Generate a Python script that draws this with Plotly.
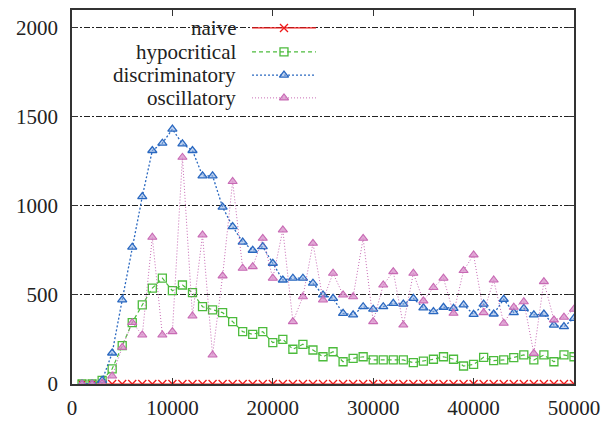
import plotly.graph_objects as go

x_vals = [1000 * i for i in range(1, 51)]

naive = [0] * 50

hypocritical = [0, 0, 20, 85, 215, 345, 444, 538, 594, 524,
                556, 513, 434, 416, 401, 350, 294, 279, 294, 232,
                251, 195, 223, 191, 153, 181, 125, 144, 153, 135,
                135, 135, 135, 120, 128, 139, 153, 139, 101, 110,
                150, 131, 135, 148, 163, 135, 163, 125, 163, 153]

discriminatory = [0, 0, 20, 174, 472, 768, 1052, 1311, 1352, 1431,
                  1348, 1311, 1169, 1169, 993, 884, 797, 751, 771, 678,
                  584, 594, 594, 566, 500, 481, 397, 388, 434, 420,
                  434, 453, 449, 481, 428, 406, 431, 425, 444, 391,
                  449, 393, 476, 401, 425, 388, 393, 331, 322, 369]

oscillatory = [0, 0, 5, 45, 206, 345, 275, 824, 275, 294,
               1273, 382, 837, 163, 607, 1137, 650, 659, 818, 594,
               865, 350, 490, 790, 472, 622, 500, 490, 818, 350,
               556, 631, 331, 622, 467, 542, 594, 397, 637, 725,
               401, 584, 341, 431, 462, 172, 575, 360, 375, 420]

series_names = ["naive", "hypocritical", "discriminatory", "oscillatory"]
x_ticks = [0, 10000, 20000, 30000, 40000, 50000]
y_ticks = [0, 500, 1000, 1500, 2000]

FONT = "Liberation Serif, Times New Roman, DejaVu Serif, serif"
TXT = "#222222"
RED = "#f01818"
GREEN = "#4cbb3c"
BLUE = "#2a68c0"
PINK = "#c86ab4"

styles = [
    dict(line=dict(color=RED, width=1.2), marker=dict(symbol="x-thin", size=8, line=dict(color=RED, width=1.3))),
    dict(line=dict(color=GREEN, width=1.2, dash="4px,3px"),
         marker=dict(symbol="square-open", size=8, color=GREEN, line=dict(color=GREEN, width=1.3))),
    dict(line=dict(color=BLUE, width=1.3, dash="2px,2px"),
         marker=dict(symbol="triangle-up", size=8, color="rgba(140,175,225,0.55)", line=dict(color=BLUE, width=1.3))),
    dict(line=dict(color=PINK, width=1.0, dash="1px,2px"),
         marker=dict(symbol="triangle-up", size=8, color="rgba(215,140,200,0.75)", line=dict(color=PINK, width=1.1))),
]

fig = go.Figure()
for name, ys, st in zip(series_names, [naive, hypocritical, discriminatory, oscillatory], styles):
    fig.add_trace(go.Scatter(x=x_vals, y=ys, mode="lines+markers", name=name,
                             line=st["line"], marker=st["marker"], showlegend=False))

# Manual gnuplot-style key (text on the left, sample on the right)
key_rows_y = [0.952, 0.888, 0.826, 0.765]
for name, yy, st in zip(series_names, key_rows_y, styles):
    fig.add_trace(go.Scatter(x=[0.3586, 0.486], y=[yy, yy], mode="lines", line=st["line"],
                             xaxis="x2", yaxis="y2", showlegend=False, hoverinfo="skip"))
    fig.add_trace(go.Scatter(x=[0.4223], y=[yy], mode="markers", marker=st["marker"],
                             xaxis="x2", yaxis="y2", showlegend=False, hoverinfo="skip"))
    fig.add_annotation(x=0.331, y=yy, xref="paper", yref="paper", text=name, showarrow=False,
                       xanchor="right", yanchor="middle", font=dict(family=FONT, size=21, color=TXT))

# white patch so the top grid line is interrupted by the key
fig.add_shape(type="rect", xref="paper", yref="paper", x0=0.004, x1=0.512, y0=0.92, y1=0.985,
              fillcolor="white", line=dict(width=0), layer="between")

fig.update_layout(
    width=607, height=421,
    margin=dict(l=72, r=33, t=10, b=37),
    plot_bgcolor="white", paper_bgcolor="white",
    font=dict(family=FONT, size=21, color=TXT),
    xaxis=dict(range=[0, 50000], tickvals=x_ticks, ticktext=[str(v) for v in x_ticks], automargin=False,
               tickfont=dict(family=FONT, size=21, color=TXT),
               showgrid=False, zeroline=False, showline=True, linecolor="#333", linewidth=1.5,
               mirror="ticks", ticks="inside", ticklen=6, tickcolor="#333", ticklabelstandoff=4),
    yaxis=dict(range=[0, 2100], tickvals=y_ticks, ticktext=[str(v) for v in y_ticks], automargin=False,
               tickfont=dict(family=FONT, size=21, color=TXT),
               showgrid=True, gridcolor="#222", gridwidth=1, griddash="6px,2px,2px,2px",
               zeroline=False, showline=True, linecolor="#333", linewidth=1.5,
               mirror="ticks", ticks="inside", ticklen=6, tickcolor="#333", ticklabelstandoff=8),
    xaxis2=dict(range=[0, 1], overlaying="x", visible=False),
    yaxis2=dict(range=[0, 1], overlaying="y", visible=False),
)

fig.write_html("out.html", config={"displayModeBar": False},
               post_script="document.body.style.margin='0px';document.body.style.overflow='hidden';")
